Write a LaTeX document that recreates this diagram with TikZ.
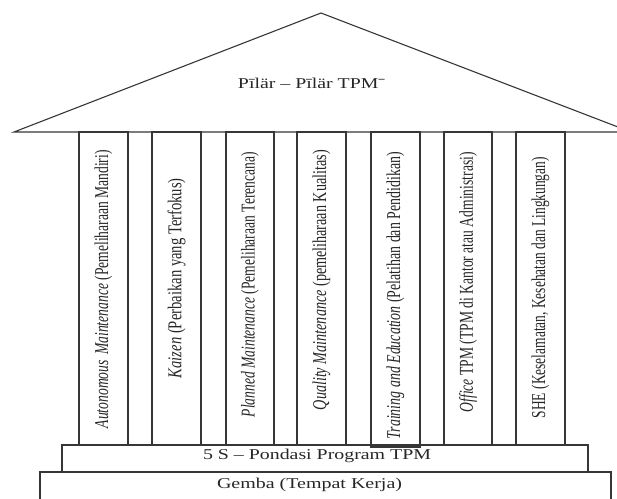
\documentclass[tikz,border=0pt]{standalone}
\usepackage{fontspec}
\setmainfont{Liberation Serif}
\usepackage{graphicx}
\definecolor{ink}{HTML}{363636}
\definecolor{txt}{HTML}{262626}
% stretch a label to a given length, keeping a wider glyph height
\newcommand{\pillarlabel}[2]{\resizebox{#1}{1.4\height}{#2}}
\newcommand{\flatlabel}[2]{\resizebox{#1}{\height}{#2}}

\begin{document}
\begin{tikzpicture}[x=1pt,y=-1pt,
  roofline/.style={draw=ink, line width=1.1pt, line join=miter},
  pillar/.style={draw=ink, line width=1.4pt, inner sep=0pt, outer sep=0pt, minimum width=49pt},
  base/.style={draw=ink, line width=1.4pt, inner sep=0pt, outer sep=0pt},
  pillartext/.style={rotate=90, anchor=east, inner sep=0pt, text=txt, font=\fontsize{14}{16}\selectfont},
  flattext/.style={anchor=base, inner sep=0pt, text=txt, font=\fontsize{15}{18}\selectfont}]
\useasboundingbox (0,0) rectangle (617,498);
\clip (0,0) rectangle (617,498);

% roof
\coordinate (apex) at (321,13);
\coordinate (eaveL) at (14,132);
\coordinate (eaveR) at (631,132);
\draw[roofline] (eaveL) -- (apex) -- (eaveR) -- cycle;
\node[flattext] (title) at (311.5,88) {\flatlabel{147pt}{Pīlär – Pīlär TPMˉ}};

% foundation
\node[base, minimum width=526pt, minimum height=27pt] (fives) at (325,458.5) {};
\node[base, minimum width=571pt, minimum height=40pt] (gemba) at (325.5,492) {};
\node[flattext] (fivestext) at (317,459) {\flatlabel{228pt}{5 S – Pondasi Program TPM}};
\node[flattext] (gembatext) at (309.5,488) {\flatlabel{185pt}{Gemba (Tempat Kerja)}};

% pillars
\node[pillar, minimum height=313pt] (p1) at (103.5,288.5) {};
\node[pillar, minimum height=313pt] (p2) at (176.5,288.5) {};
\node[pillar, minimum height=313pt, minimum width=48pt] (p3) at (250,288.5) {};
\node[pillar, minimum height=313pt] (p4) at (321.5,288.5) {};
\node[pillar, minimum height=315pt] (p5) at (395.5,289.5) {};
\node[pillar, minimum height=313pt, minimum width=48pt] (p6) at (468,288.5) {};
\node[pillar, minimum height=313pt] (p7) at (540.5,288.5) {};

% pillar labels, read bottom to top
\node[pillartext] (t1) at (103.5,150) {\pillarlabel{278pt}{\textit{Autonomous\hspace{0.4em}Maintenance} (Pemeliharaan Mandiri)}};
\node[pillartext] (t2) at (176.5,178) {\pillarlabel{200pt}{\textit{Kaizen} (Perbaikan yang Terfokus)}};
\node[pillartext] (t3) at (250,152) {\pillarlabel{265pt}{\textit{Planned Maintenance} (Pemeliharaan Terencana)}};
\node[pillartext] (t4) at (321.5,150) {\pillarlabel{260pt}{\textit{Quality Maintenance} (pemeliharaan Kualitas)}};
\node[pillartext] (t5) at (395.5,152) {\pillarlabel{287pt}{\textit{Training and Education} (Pelatihan dan Pendidikan)}};
\node[pillartext] (t6) at (468,152) {\pillarlabel{260pt}{\textit{Office} TPM (TPM di Kantor atau Administrasi)}};
\node[pillartext] (t7) at (540.5,157) {\pillarlabel{261pt}{SHE (Keselamatan, Kesehatan dan Lingkungan)}};
\end{tikzpicture}
\end{document}
